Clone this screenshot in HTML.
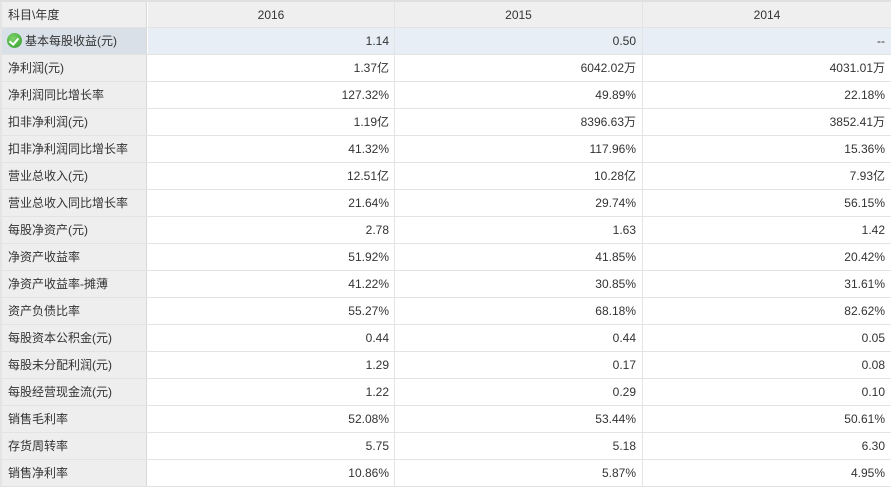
<!DOCTYPE html>
<html><head><meta charset="utf-8">
<style>
*{margin:0;padding:0;box-sizing:border-box}
html,body{width:891px;height:489px;background:#fff;overflow:hidden}
body{position:relative;font-family:"Liberation Sans","Noto Sans CJK SC",sans-serif;font-size:12px;color:#333}
.top{position:absolute;left:0;top:0;width:891px;height:2px;background:#e0e0e0}
.r{position:absolute;left:0;width:891px;height:27px;border-bottom:1px solid #e3e3e3}
.c{position:absolute;top:0;height:100%;line-height:26px;white-space:nowrap}
.c0{left:0;width:147px;background:#eeeeee;border-right:1px solid #d8d8d8;border-left:2px solid #e4e4e4;padding-left:6px}
.c1{left:148px;width:247px;text-align:right;padding-right:5px;border-right:1px solid #e4e4e4}
.c2{left:395px;width:248px;text-align:right;padding-right:6px;border-right:1px solid #e4e4e4}
.c3{left:643px;width:248px;text-align:right;padding-right:6px}
.h .c{background:#efefef;text-align:center;padding-right:0}
.h .c0{text-align:left;padding-left:6px}
.hl .c{background:#e7eef6}
.hl .c0{background:#d9e0e8}
.ico{display:inline-block;width:15px;height:15px;border-radius:50%;background:radial-gradient(circle at 40% 35%,#7fd46a,#2f9a2a);vertical-align:-3px;margin-right:3px;position:relative}
.ico:after{content:"";position:absolute;left:4px;top:3px;width:4px;height:7px;border-right:2px solid #fff;border-bottom:2px solid #fff;transform:rotate(40deg)}
</style></head><body>
<div class="top"></div>
<div class="r h" style="top:2px;height:26px"><div class="c c0">科目\年度</div><div class="c c1">2016</div><div class="c c2">2015</div><div class="c c3">2014</div></div>
<div class="r hl" style="top:28px"><div class="c c0" style="padding-left:5px"><span class="ico"></span>基本每股收益(元)</div><div class="c c1">1.14</div><div class="c c2">0.50</div><div class="c c3">--</div></div>
<div class="r" style="top:55px"><div class="c c0">净利润(元)</div><div class="c c1">1.37亿</div><div class="c c2">6042.02万</div><div class="c c3">4031.01万</div></div>
<div class="r" style="top:82px"><div class="c c0">净利润同比增长率</div><div class="c c1">127.32%</div><div class="c c2">49.89%</div><div class="c c3">22.18%</div></div>
<div class="r" style="top:109px"><div class="c c0">扣非净利润(元)</div><div class="c c1">1.19亿</div><div class="c c2">8396.63万</div><div class="c c3">3852.41万</div></div>
<div class="r" style="top:136px"><div class="c c0">扣非净利润同比增长率</div><div class="c c1">41.32%</div><div class="c c2">117.96%</div><div class="c c3">15.36%</div></div>
<div class="r" style="top:163px"><div class="c c0">营业总收入(元)</div><div class="c c1">12.51亿</div><div class="c c2">10.28亿</div><div class="c c3">7.93亿</div></div>
<div class="r" style="top:190px"><div class="c c0">营业总收入同比增长率</div><div class="c c1">21.64%</div><div class="c c2">29.74%</div><div class="c c3">56.15%</div></div>
<div class="r" style="top:217px"><div class="c c0">每股净资产(元)</div><div class="c c1">2.78</div><div class="c c2">1.63</div><div class="c c3">1.42</div></div>
<div class="r" style="top:244px"><div class="c c0">净资产收益率</div><div class="c c1">51.92%</div><div class="c c2">41.85%</div><div class="c c3">20.42%</div></div>
<div class="r" style="top:271px"><div class="c c0">净资产收益率-摊薄</div><div class="c c1">41.22%</div><div class="c c2">30.85%</div><div class="c c3">31.61%</div></div>
<div class="r" style="top:298px"><div class="c c0">资产负债比率</div><div class="c c1">55.27%</div><div class="c c2">68.18%</div><div class="c c3">82.62%</div></div>
<div class="r" style="top:325px"><div class="c c0">每股资本公积金(元)</div><div class="c c1">0.44</div><div class="c c2">0.44</div><div class="c c3">0.05</div></div>
<div class="r" style="top:352px"><div class="c c0">每股未分配利润(元)</div><div class="c c1">1.29</div><div class="c c2">0.17</div><div class="c c3">0.08</div></div>
<div class="r" style="top:379px"><div class="c c0">每股经营现金流(元)</div><div class="c c1">1.22</div><div class="c c2">0.29</div><div class="c c3">0.10</div></div>
<div class="r" style="top:406px"><div class="c c0">销售毛利率</div><div class="c c1">52.08%</div><div class="c c2">53.44%</div><div class="c c3">50.61%</div></div>
<div class="r" style="top:433px"><div class="c c0">存货周转率</div><div class="c c1">5.75</div><div class="c c2">5.18</div><div class="c c3">6.30</div></div>
<div class="r" style="top:460px"><div class="c c0">销售净利率</div><div class="c c1">10.86%</div><div class="c c2">5.87%</div><div class="c c3">4.95%</div></div>
</body></html>
